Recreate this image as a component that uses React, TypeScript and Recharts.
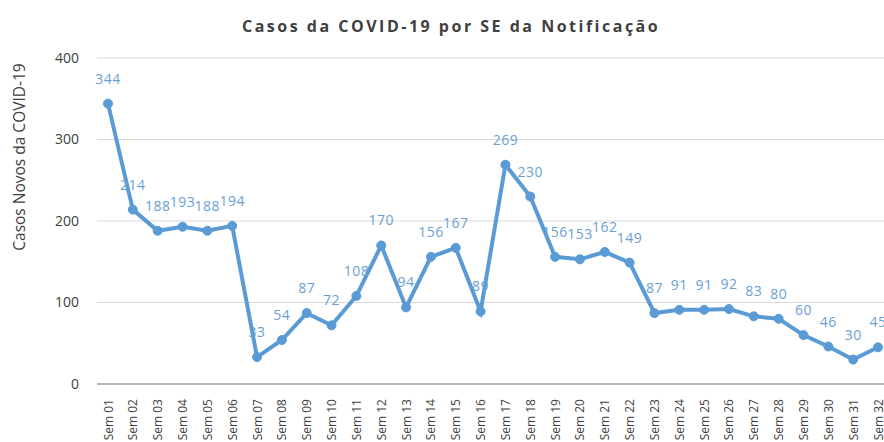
import React from "react";
import { LineChart, Line, XAxis, YAxis, CartesianGrid, LabelList } from "recharts";

const weeks = [
  "Sem 01","Sem 02","Sem 03","Sem 04","Sem 05","Sem 06","Sem 07","Sem 08",
  "Sem 09","Sem 10","Sem 11","Sem 12","Sem 13","Sem 14","Sem 15","Sem 16",
  "Sem 17","Sem 18","Sem 19","Sem 20","Sem 21","Sem 22","Sem 23","Sem 24",
  "Sem 25","Sem 26","Sem 27","Sem 28","Sem 29","Sem 30","Sem 31","Sem 32",
];
const cases = [
  344, 214, 188, 193, 188, 194, 33, 54,
  87, 72, 108, 170, 94, 156, 167, 89,
  269, 230, 156, 153, 162, 149, 87, 91,
  91, 92, 83, 80, 60, 46, 30, 45,
];
const yTicks = [0, 100, 200, 300, 400];
const title = "Casos da COVID-19 por SE da Notificação";
const yLabel = "Casos Novos da COVID-19";

const data = weeks.map((w, i) => ({ week: w, value: cases[i] }));

const FONT = "'Open Sans', 'Liberation Sans', sans-serif";
const BLUE = "#5b9bd5";

const XTick = (props: any) => {
  const { x, y, payload } = props;
  return (
    <text
      x={x}
      y={y}
      transform={`rotate(-90, ${x}, ${y})`}
      textAnchor="end"
      dominantBaseline="central"
      fontSize={12}
      fontFamily={FONT}
      fill="#404040"
      dx={-7}
    >
      {payload.value}
    </text>
  );
};

export default function App() {
  return (
    <div
      style={{
        position: "absolute",
        left: 0,
        top: 0,
        width: 884,
        height: 442,
        overflow: "hidden",
        background: "#fff",
      }}
    >
      <div
        style={{
          position: "absolute",
          left: 242,
          top: 15,
          whiteSpace: "nowrap",
          fontFamily: FONT,
          fontWeight: 700,
          fontSize: 16,
          letterSpacing: 2.5,
          color: "#404040",
        }}
      >
        {title}
      </div>
      <div
        style={{
          position: "absolute",
          left: 19,
          top: 157,
          transform: "translate(-50%, -50%) rotate(-90deg)",
          whiteSpace: "nowrap",
          fontFamily: FONT,
          fontSize: 15.5,
          color: "#404040",
        }}
      >
        {yLabel}
      </div>
      <LineChart
        width={900}
        height={442}
        data={data}
        margin={{ top: 58, right: 0, bottom: 0, left: 0 }}
        style={{ position: "absolute", left: 0, top: 0 }}
      >
        <CartesianGrid vertical={false} stroke="#d9d9d9" />
        <XAxis
          dataKey="week"
          interval={0}
          height={58}
          padding={{ left: 11, right: 22 }}
          tick={<XTick />}
          tickLine={false}
          axisLine={{ stroke: "#a6a6a6", strokeWidth: 1.5 }}
        />
        <YAxis
          width={97}
          domain={[0, 400]}
          ticks={yTicks}
          axisLine={false}
          tickLine={false}
          tickMargin={12}
          tick={{ fontSize: 14, fontFamily: FONT, fill: "#404040" }}
        />
        <Line
          type="linear"
          dataKey="value"
          stroke={BLUE}
          strokeWidth={4}
          dot={{ r: 4.5, fill: BLUE, stroke: BLUE, strokeWidth: 1 }}
          isAnimationActive={false}
        >
          <LabelList
            dataKey="value"
            position="top"
            offset={20}
            fontSize={14}
            fontFamily={FONT}
            letterSpacing={0.5}
            fill="#6a9fd4"
          />
        </Line>
      </LineChart>
    </div>
  );
}
